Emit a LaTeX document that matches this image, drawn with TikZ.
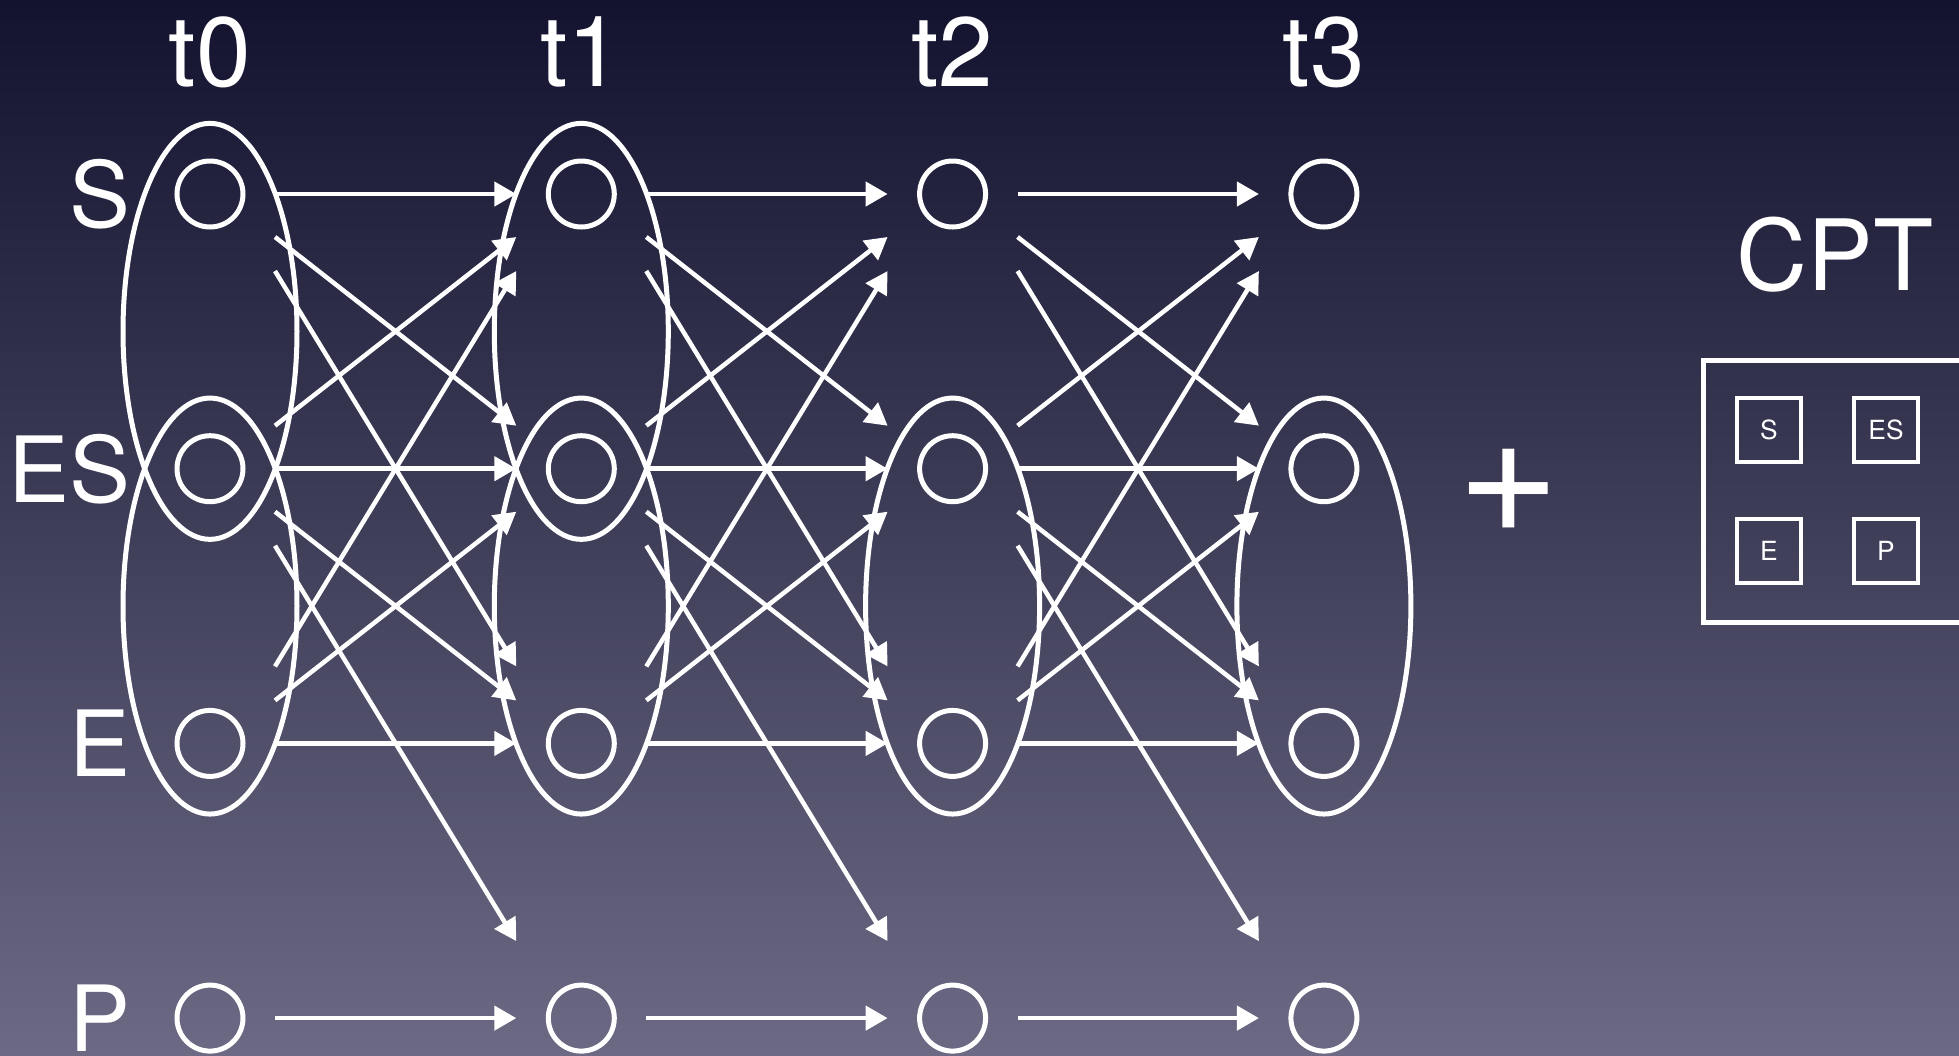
\documentclass[tikz,border=0pt]{standalone}
\usepackage{fontspec}
\setmainfont{TeX Gyre Heros}
\usetikzlibrary{arrows.meta,positioning,calc}
\definecolor{bgtop}{HTML}{13132F}
\definecolor{bgbot}{HTML}{6B6983}

\begin{document}
\begin{tikzpicture}[
    on grid,
    node distance=2.747cm and 3.713cm,
    dot/.style={circle, draw=white, line width=0.5mm, minimum size=6.6mm, inner sep=0pt, outer sep=3.2mm},
    ring/.style={draw=white, line width=0.5mm},
    arr/.style={-{Triangle[length=2.2mm, width=2.4mm]}, white, line width=0.45mm},
    tlbl/.style={text=white, font=\fontsize{28}{34}\selectfont, anchor=base, inner sep=0pt},
    rlbl/.style={tlbl, anchor=east, font=\fontsize{26}{32}\selectfont},
    cell/.style={rectangle, draw=white, line width=0.4mm, minimum size=6.4mm, inner sep=0pt,
                 text=white, font=\fontsize{7.5}{9}\selectfont}
  ]
  \shade[top color=bgtop, bottom color=bgbot] (0,0) rectangle (19.59,10.55);
  \useasboundingbox (0,0) rectangle (19.59,10.55);

  \node[dot] (s0) at (2.10,8.61) {};
  \node[dot, right=of s0] (s1) {};
  \node[dot, right=of s1] (s2) {};
  \node[dot, right=of s2] (s3) {};
  \node[dot, below=of s0] (es0) {};
  \node[dot, right=of es0] (es1) {};
  \node[dot, right=of es1] (es2) {};
  \node[dot, right=of es2] (es3) {};
  \node[dot, below=of es0] (e0) {};
  \node[dot, right=of e0] (e1) {};
  \node[dot, right=of e1] (e2) {};
  \node[dot, right=of e2] (e3) {};
  \node[dot, below=of e0] (p0) {};
  \node[dot, right=of p0] (p1) {};
  \node[dot, right=of p1] (p2) {};
  \node[dot, right=of p2] (p3) {};

  \node[tlbl] (t0) at ([yshift=10.8mm]s0.center) {t0};
  \node[tlbl] (t1) at ([yshift=10.8mm]s1.center) {t1};
  \node[tlbl] (t2) at ([yshift=10.8mm]s2.center) {t2};
  \node[tlbl] (t3) at ([yshift=10.8mm]s3.center) {t3};
  \node[rlbl] (ls) at ([xshift=-7.9mm]s0.center) {S};
  \node[rlbl] (les) at ([xshift=-7.9mm]es0.center) {ES};
  \node[rlbl] (le) at ([xshift=-7.9mm]e0.center) {E};
  \node[rlbl] (lp) at ([xshift=-7.9mm]p0.center) {P};

  \draw[ring] ($(s0)!.5!(es0)$) ellipse [x radius=8.7mm, y radius=20.8mm];
  \draw[ring] ($(es0)!.5!(e0)$) ellipse [x radius=8.7mm, y radius=20.8mm];
  \draw[ring] ($(s1)!.5!(es1)$) ellipse [x radius=8.7mm, y radius=20.8mm];
  \draw[ring] ($(es1)!.5!(e1)$) ellipse [x radius=8.7mm, y radius=20.8mm];
  \draw[ring] ($(es2)!.5!(e2)$) ellipse [x radius=8.7mm, y radius=20.8mm];
  \draw[ring] ($(es3)!.5!(e3)$) ellipse [x radius=8.7mm, y radius=20.8mm];

  \draw[arr] (s0.east) -- (s1.west);
  \draw[arr] ([yshift=-4.3mm]s0.east) -- ([yshift=4.3mm]es1.west);
  \draw[arr] ([yshift=-7.7mm]s0.east) -- ([yshift=7.7mm]e1.west);
  \draw[arr] ([yshift=4.3mm]es0.east) -- ([yshift=-4.3mm]s1.west);
  \draw[arr] (es0.east) -- (es1.west);
  \draw[arr] ([yshift=-4.3mm]es0.east) -- ([yshift=4.3mm]e1.west);
  \draw[arr] ([yshift=-7.7mm]es0.east) -- ([yshift=7.7mm]p1.west);
  \draw[arr] ([yshift=7.7mm]e0.east) -- ([yshift=-7.7mm]s1.west);
  \draw[arr] ([yshift=4.3mm]e0.east) -- ([yshift=-4.3mm]es1.west);
  \draw[arr] (e0.east) -- (e1.west);
  \draw[arr] (p0.east) -- (p1.west);

  \draw[arr] (s1.east) -- (s2.west);
  \draw[arr] ([yshift=-4.3mm]s1.east) -- ([yshift=4.3mm]es2.west);
  \draw[arr] ([yshift=-7.7mm]s1.east) -- ([yshift=7.7mm]e2.west);
  \draw[arr] ([yshift=4.3mm]es1.east) -- ([yshift=-4.3mm]s2.west);
  \draw[arr] (es1.east) -- (es2.west);
  \draw[arr] ([yshift=-4.3mm]es1.east) -- ([yshift=4.3mm]e2.west);
  \draw[arr] ([yshift=-7.7mm]es1.east) -- ([yshift=7.7mm]p2.west);
  \draw[arr] ([yshift=7.7mm]e1.east) -- ([yshift=-7.7mm]s2.west);
  \draw[arr] ([yshift=4.3mm]e1.east) -- ([yshift=-4.3mm]es2.west);
  \draw[arr] (e1.east) -- (e2.west);
  \draw[arr] (p1.east) -- (p2.west);

  \draw[arr] (s2.east) -- (s3.west);
  \draw[arr] ([yshift=-4.3mm]s2.east) -- ([yshift=4.3mm]es3.west);
  \draw[arr] ([yshift=-7.7mm]s2.east) -- ([yshift=7.7mm]e3.west);
  \draw[arr] ([yshift=4.3mm]es2.east) -- ([yshift=-4.3mm]s3.west);
  \draw[arr] (es2.east) -- (es3.west);
  \draw[arr] ([yshift=-4.3mm]es2.east) -- ([yshift=4.3mm]e3.west);
  \draw[arr] ([yshift=-7.7mm]es2.east) -- ([yshift=7.7mm]p3.west);
  \draw[arr] ([yshift=7.7mm]e2.east) -- ([yshift=-7.7mm]s3.west);
  \draw[arr] ([yshift=4.3mm]e2.east) -- ([yshift=-4.3mm]es3.west);
  \draw[arr] (e2.east) -- (e3.west);
  \draw[arr] (p2.east) -- (p3.west);

  \node[text=white, font=\fontsize{50}{56}\selectfont] (plus) at (15.09,5.64) {+};
  \node[text=white, font=\fontsize{28}{34}\selectfont] (cpt) at (18.35,8.0) {CPT};
  \draw[ring] (17.035,4.325) rectangle (20.2,6.945);
  \node[cell] (cs) at (17.69,6.25) {S};
  \node[cell, right=1.17cm of cs] (ces) {ES};
  \node[cell, below=1.21cm of cs] (ce) {E};
  \node[cell, right=1.17cm of ce] (cp) {P};
\end{tikzpicture}
\end{document}
